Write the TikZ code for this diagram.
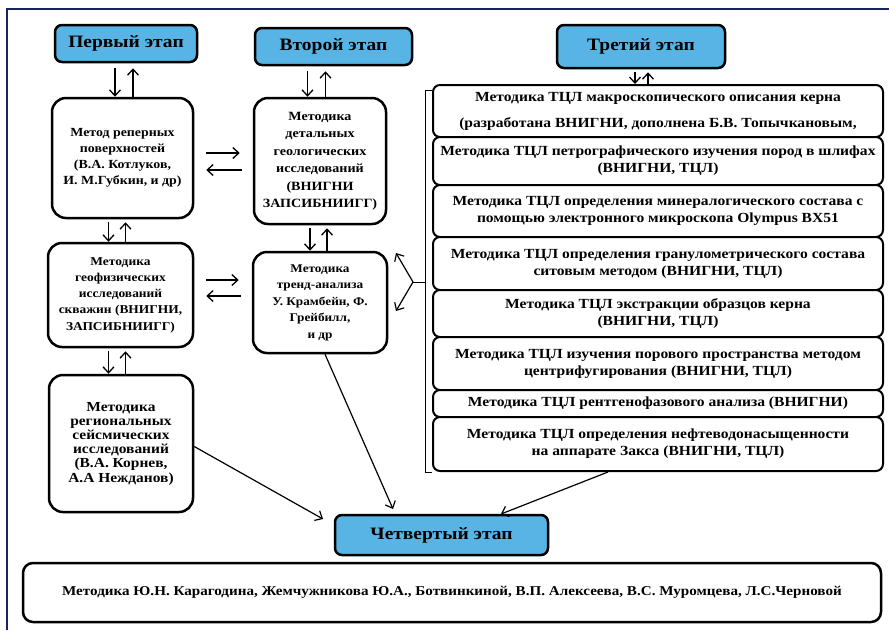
\documentclass[tikz,border=0pt]{standalone}
\usepackage{fontspec}
\setmainfont{Liberation Serif}[FakeStretch=1.12]
\usetikzlibrary{arrows.meta}
\definecolor{stageblue}{RGB}{88,180,228}
\definecolor{framenavy}{RGB}{25,35,95}
\begin{document}
\begin{tikzpicture}[x=1pt,y=-1pt,
 stage/.style={draw=black, line width=2.5pt, fill=stageblue, rounded corners=7pt, font=\bfseries\fontsize{17.4}{19}\selectfont, inner sep=0pt},
 lbox/.style={draw=black, line width=2.5pt, fill=white, rounded corners=14pt, align=center, font=\bfseries\fontsize{12.4}{16}\selectfont, inner sep=0pt},
 rbox/.style={draw=black, line width=2pt, fill=white, rounded corners=7pt, align=center, font=\bfseries\fontsize{13.9}{17}\selectfont, minimum width=450pt, inner sep=0pt},
 arr/.style={-{Straight Barb[length=6pt,width=11pt]}, line width=1.3pt},
 thin/.style={line width=1pt},
]
\useasboundingbox (0,0) rectangle (889,630);
\draw[framenavy, line width=1.2pt] (7,630) -- (7,9) -- (889,9);

% stages
\node[stage, minimum width=142pt, minimum height=37pt] (s1) at (126,43.5) {Первый этап};
\node[stage, minimum width=157pt, minimum height=37pt] (s2) at (333.5,46.5) {Второй этап};
\node[stage, minimum width=168pt, minimum height=43pt] (s3) at (641,46.5) {Третий этап};
\node[stage, minimum width=213pt, minimum height=40pt] (s4) at (441.5,535) {Четвертый этап};

% left column
\node[lbox, minimum width=141pt, minimum height=120pt] (b1) at (122.5,158) {Метод реперных\\поверхностей\\(В.А. Котлуков,\\И. М.Губкин, и др)};
\node[lbox, minimum width=145pt, minimum height=104pt, font=\bfseries\fontsize{12}{16.3}\selectfont] (b2) at (120.5,295) {Методика\\геофизических\\исследований\\скважин (ВНИГНИ,\\ЗАПСИБНИИГГ)};
\node[lbox, minimum width=144pt, minimum height=137pt, font=\bfseries\fontsize{13.8}{14.2}\selectfont] (b3) at (121,443.5) {Методика\\региональных\\сейсмических\\исследований\\(В.А. Корнев,\\А.А Нежданов)};

% middle column
\node[lbox, minimum width=132pt, minimum height=126pt, font=\bfseries\fontsize{12.6}{17.5}\selectfont] (m1) at (320,161) {Методика\\детальных\\геологических\\исследований\\(ВНИГНИ\\ЗАПСИБНИИГГ)};
\node[lbox, minimum width=134pt, minimum height=101pt, font=\bfseries\fontsize{11.8}{16.5}\selectfont] (m2) at (320,302.5) {Методика\\тренд-анализа\\У. Крамбейн, Ф.\\Грейбилл,\\и др};

% right column
\node[rbox, minimum height=52pt] (r1) at (658,111) {Методика ТЦЛ макроскопического описания керна\\[9pt](разработана ВНИГНИ, дополнена Б.В. Топычкановым,};
\node[rbox, minimum height=48pt] (r2) at (658,161) {Методика ТЦЛ петрографического изучения пород в шлифах\\(ВНИГНИ, ТЦЛ)};
\node[rbox, minimum height=52pt] (r3) at (658,211) {Методика ТЦЛ определения минералогического состава с\\помощью электронного микроскопа Olympus BX51};
\node[rbox, minimum height=53pt] (r4) at (658,263.5) {Методика ТЦЛ определения гранулометрического состава\\ситовым методом (ВНИГНИ, ТЦЛ)};
\node[rbox, minimum height=47pt] (r5) at (658,313.5) {Методика ТЦЛ экстракции образцов керна\\(ВНИГНИ, ТЦЛ)};
\node[rbox, minimum height=53pt] (r6) at (658,363.5) {Методика ТЦЛ изучения порового пространства методом\\центрифугирования (ВНИГНИ, ТЦЛ)};
\node[rbox, minimum height=27pt] (r7) at (658,403.5) {Методика ТЦЛ рентгенофазового анализа (ВНИГНИ)};
\node[rbox, minimum height=54pt] (r8) at (658,444) {Методика ТЦЛ определения нефтеводонасыщенности\\на аппарате Закса (ВНИГНИ, ТЦЛ)};

% bottom
\node[draw=black, line width=2.5pt, fill=white, rounded corners=10pt, minimum width=858pt, minimum height=59pt, inner sep=0pt, font=\bfseries\fontsize{13.5}{15}\selectfont] (bot) at (452,592.5) {Методика Ю.Н. Карагодина, Жемчужникова Ю.А., Ботвинкиной, В.П. Алексеева, В.С. Муромцева, Л.С.Черновой};

% vertical double arrows
\draw[arr] ([xshift=-11pt,yshift=-5pt]s1.south) -- ([xshift=-11pt]s1.south |- b1.north);
\draw[arr] ([xshift=7pt]s1.south |- b1.north) -- ([xshift=7pt,yshift=-5pt]s1.south);
\draw[arr] ([xshift=-26pt,yshift=-5pt]s2.south) -- ([xshift=-26pt]s2.south |- m1.north);
\draw[arr] ([xshift=-8pt]s2.south |- m1.north) -- ([xshift=-8pt,yshift=-5pt]s2.south);
\draw[arr] ([xshift=-6pt,yshift=-3pt]s3.south) -- ([xshift=-6pt]s3.south |- r1.north);
\draw[arr] ([xshift=7pt]s3.south |- r1.north) -- ([xshift=7pt,yshift=-3pt]s3.south);

\draw[arr] ([xshift=-14pt,yshift=-3pt]b1.south) -- ([xshift=-14pt]b1.south |- b2.north);
\draw[arr] ([xshift=3pt]b1.south |- b2.north) -- ([xshift=3pt,yshift=-3pt]b1.south);
\draw[arr] ([xshift=-10pt,yshift=-3pt]m1.south) -- ([xshift=-10pt]m1.south |- m2.north);
\draw[arr] ([xshift=7pt]m1.south |- m2.north) -- ([xshift=7pt,yshift=-3pt]m1.south);
\draw[arr] ([xshift=-12pt,yshift=-3pt]b2.south) -- ([xshift=-12pt]b2.south |- b3.north);
\draw[arr] ([xshift=5pt]b2.south |- b3.north) -- ([xshift=5pt,yshift=-3pt]b2.south);

% horizontal double arrows
\draw[arr] ([xshift=12pt,yshift=5pt]b1.east) -- ([xshift=-13pt,yshift=5pt]b1.east -| m1.west);
\draw[arr] ([xshift=-11pt,yshift=-12pt]b1.east -| m1.west) -- ([xshift=12pt,yshift=-12pt]b1.east);
\draw[arr] ([xshift=12pt,yshift=15pt]b2.east) -- ([xshift=-13pt,yshift=15pt]b2.east -| m2.west);
\draw[arr] ([xshift=-11pt,yshift=-1pt]b2.east -| m2.west) -- ([xshift=12pt,yshift=-1pt]b2.east);

% bracket
\coordinate (bt) at (425,90);
\coordinate (bb) at (425,472);
\coordinate (bm) at (425,282);
\coordinate (bj) at (413,282);
\draw[thin] (r1.west |- bt) -- (bt) -- (bb) -- (r8.west |- bb);
\draw[thin] (bm) -- (bj);
\draw[arr, line width=1.2pt] (bj) -- (396,253);
\draw[arr, line width=1.2pt] (bj) -- (396,311);

% to fourth stage
\coordinate (t1) at (393,509);
\coordinate (t2) at (323,519);
\coordinate (t3) at (501,514);
\draw[arr, line width=1.2pt] ([xshift=5pt]m2.south) -- (t1);
\draw[arr, line width=1.2pt] ([yshift=-3pt]b3.east) -- (t2);
\draw[arr, line width=1.2pt] (608,472) -- (t3);
\end{tikzpicture}
\end{document}
